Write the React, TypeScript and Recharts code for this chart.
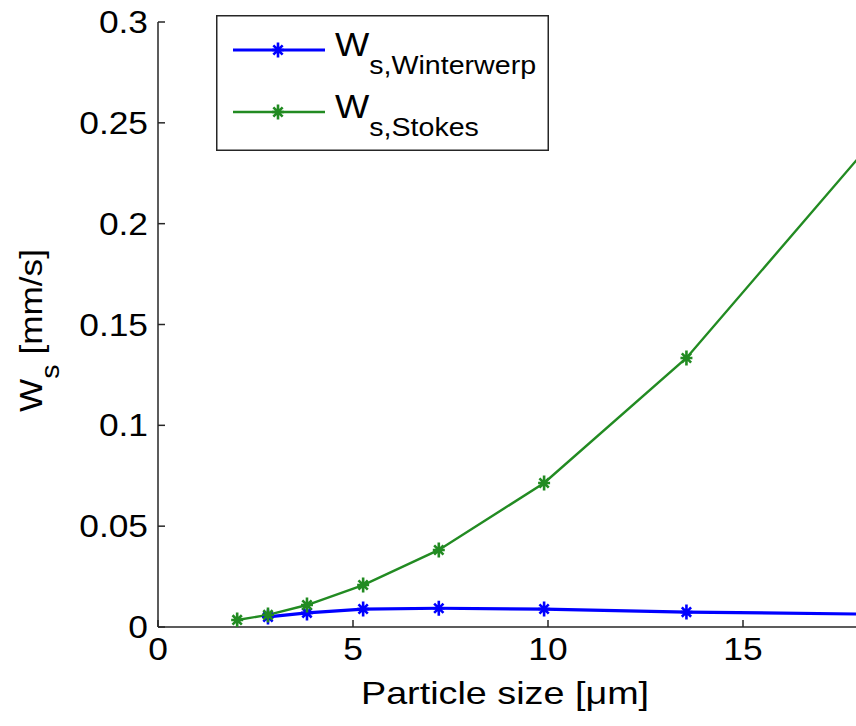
import React from "react";
import { Legend, Label, Line, LineChart, XAxis, YAxis } from "recharts";

// particle size [um] at which the settling velocity was evaluated
const particleSize = [2.03, 2.82, 3.82, 5.26, 7.2, 9.9, 13.55, 18.6];
// settling velocity [mm/s]
const wsWinterwerp = [null, 0.005, 0.007, 0.0089, 0.0093, 0.0089, 0.0074, 0.0063];
const wsStokes = [0.0035, 0.006, 0.0109, 0.0208, 0.0382, 0.0714, 0.1334, 0.247];

const xTicks = [0, 5, 10, 15];
const yTicks = [0, 0.05, 0.1, 0.15, 0.2, 0.25, 0.3];
const xDomain = [0, 18];
const yDomain = [0, 0.3];

const series = [
  { key: "winterwerp", name: "Winterwerp", values: wsWinterwerp, color: "#0000ff", width: 3.2 },
  { key: "stokes", name: "Stokes", values: wsStokes, color: "#228b22", width: 2.4 },
];

const data = particleSize.map((d, i) => ({
  size: d,
  winterwerp: wsWinterwerp[i],
  stokes: wsStokes[i],
}));

const FONT = "'Liberation Sans', Arial, Helvetica, sans-serif";
const AXIS = "#262626";
// the original matlab font renders a little wider than Arial
const STRETCH = 1.14;

// matlab '*' marker: a '+' with a taller vertical arm, plus an 'x'
function asteriskPath(cx: number, cy: number, r: number) {
  const h = r * 0.8;
  const d = r * 0.62;
  return (
    `M${cx - h},${cy}H${cx + h}M${cx},${cy - r}V${cy + r}` +
    `M${cx - d},${cy - d}L${cx + d},${cy + d}M${cx - d},${cy + d}L${cx + d},${cy - d}`
  );
}

function starDot(color: string) {
  return (props: any) => {
    const { cx, cy, index } = props;
    if (cx == null || cy == null || props.value == null) return <g key={`d${index}`} />;
    return (
      <path
        key={`d${index}`}
        d={asteriskPath(cx, cy, 7.5)}
        stroke={color}
        strokeWidth={2.6}
        fill="none"
      />
    );
  };
}

function StretchTick(props: any) {
  const { x, y, payload, textAnchor, verticalAnchor } = props;
  const dy = verticalAnchor === "start" ? "0.71em" : "0.355em";
  return (
    <g transform={`translate(${x},${y}) scale(${STRETCH},1)`}>
      <text x={0} y={0} dy={dy} textAnchor={textAnchor} fontSize={31} fontFamily={FONT} fill="#000">
        {String(payload.value)}
      </text>
    </g>
  );
}

function LegendBox() {
  return (
    <svg width={333} height={136} style={{ display: "block", fontFamily: FONT }}>
      <rect x={0.75} y={0.75} width={331.5} height={134.5} fill="#fff" stroke={AXIS} strokeWidth={1.5} />
      {series.map((s, i) => {
        const ly = 35 + i * 62;
        return (
          <g key={s.key}>
            <line x1={17} x2={109} y1={ly} y2={ly} stroke={s.color} strokeWidth={s.width} />
            <path d={asteriskPath(62, ly, 7.5)} stroke={s.color} strokeWidth={2.6} fill="none" />
            <g transform={`translate(119,${ly + 6}) scale(1.1,1)`}>
              <text x={0} y={0} fontSize={33} fill="#000">
                W
                <tspan dy={18} fontSize={26}>
                  {`s,${s.name}`}
                </tspan>
              </text>
            </g>
          </g>
        );
      })}
    </svg>
  );
}

function YTitle({ viewBox }: any) {
  const cy = viewBox.y + viewBox.height / 2 + 6;
  const bx = 42;
  return (
    <g transform={`translate(${bx},${cy}) rotate(-90) scale(1.1,1)`}>
      <text x={0} y={0} textAnchor="middle" fontSize={32} fontFamily={FONT} fill="#000">
        W
        <tspan dy={17} fontSize={26}>
          s
        </tspan>
        <tspan dy={-17}> [mm/s]</tspan>
      </text>
    </g>
  );
}

function XTitle({ viewBox }: any) {
  const cx = viewBox.x + viewBox.width / 2 - 4;
  return (
    <g transform={`translate(${cx},704) scale(${STRETCH + 0.04},1)`}>
      <text x={0} y={0} textAnchor="middle" fontSize={32} fontFamily={FONT} fill="#000">
        Particle size [μm]
      </text>
    </g>
  );
}

export default function App() {
  return (
    <div
      style={{
        position: "fixed",
        left: 0,
        top: 0,
        width: 856,
        height: 726,
        overflow: "hidden",
        background: "#fff",
      }}
    >
      <LineChart
        width={866}
        height={726}
        data={data}
        margin={{ top: 22, right: 6, bottom: 0, left: 0 }}
      >
        <XAxis
          dataKey="size"
          type="number"
          domain={xDomain}
          ticks={xTicks}
          allowDataOverflow
          height={99}
          stroke={AXIS}
          strokeWidth={1.5}
          tickSize={-7}
          tickMargin={18}
          tick={<StretchTick />}
          tickLine={{ stroke: AXIS, strokeWidth: 1.5 }}
        >
          <Label content={<XTitle />} />
        </XAxis>
        <XAxis
          xAxisId="top"
          dataKey="size"
          type="number"
          orientation="top"
          domain={xDomain}
          ticks={xTicks}
          allowDataOverflow
          height={0}
          mirror
          tick={false}
          tickSize={7}
          stroke={AXIS}
          strokeWidth={1.5}
        />
        <YAxis
          type="number"
          domain={yDomain}
          ticks={yTicks}
          allowDataOverflow
          width={158}
          stroke={AXIS}
          strokeWidth={1.5}
          tickSize={-7}
          tickMargin={17}
          tick={<StretchTick />}
          tickLine={{ stroke: AXIS, strokeWidth: 1.5 }}
        >
          <Label content={<YTitle />} />
        </YAxis>
        <YAxis
          yAxisId="right"
          type="number"
          orientation="right"
          domain={yDomain}
          ticks={yTicks}
          allowDataOverflow
          width={0}
          mirror
          tick={false}
          tickSize={7}
          stroke={AXIS}
          strokeWidth={1.5}
        />
        <Legend
          layout="vertical"
          align="center"
          verticalAlign="middle"
          wrapperStyle={{ left: 216, top: 15, width: 333, height: 136 }}
          content={<LegendBox />}
        />
        {series.map((s) => (
          <Line
            key={s.key}
            type="linear"
            dataKey={s.key}
            name={s.name}
            stroke={s.color}
            strokeWidth={s.width}
            dot={starDot(s.color)}
            activeDot={false}
            isAnimationActive={false}
          />
        ))}
      </LineChart>
    </div>
  );
}
